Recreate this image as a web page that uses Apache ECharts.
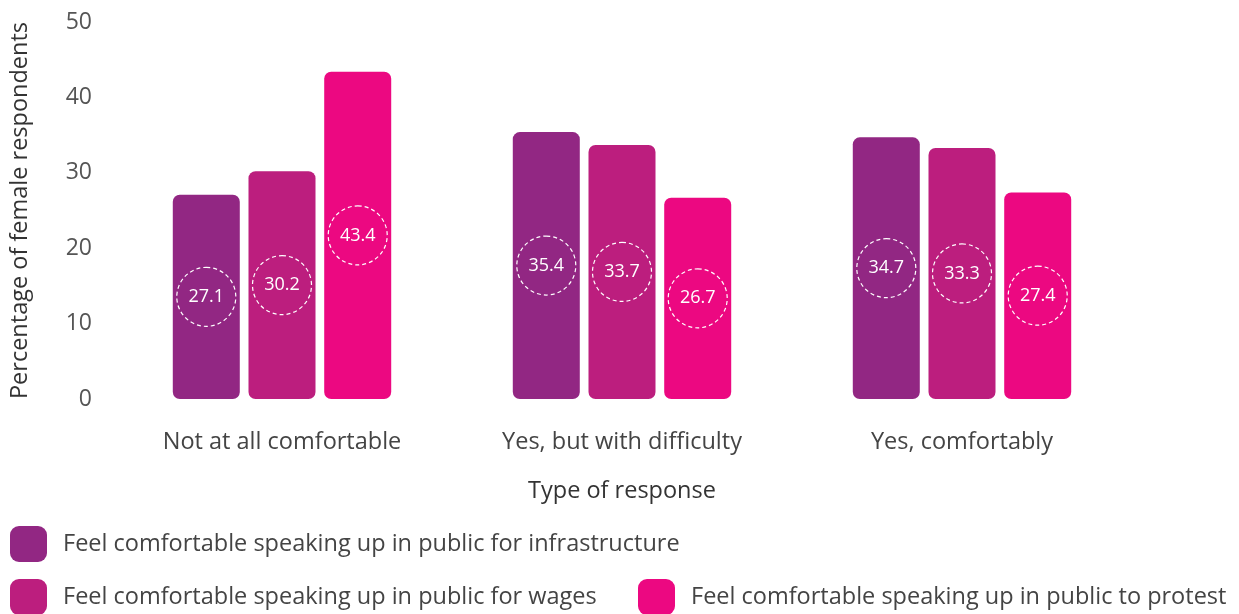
<!DOCTYPE html>
<html>
<head>
<meta charset="utf-8">
<script src="https://cdn.jsdelivr.net/npm/echarts@6/dist/echarts.min.js"></script>
<style>
  html, body { margin: 0; padding: 0; background: #fff; }
  #chart { width: 1239px; height: 614px; }
</style>
</head>
<body>
<div id="chart"></div>
<script>
// Survey responses by type, one bar per reason
const categories = ['Not at all comfortable', 'Yes, but with difficulty', 'Yes, comfortably'];
const seriesNames = [
  'Feel comfortable speaking up in public for infrastructure',
  'Feel comfortable speaking up in public for wages',
  'Feel comfortable speaking up in public to protest'
];
const infrastructure = [27.1, 35.4, 34.7];
const wages = [30.2, 33.7, 33.3];
const protest = [43.4, 26.7, 27.4];
const colors = ['#922783', '#bc1e7e', '#ec0881'];

const FONT = '"Open Sans", Lato, sans-serif';

function makeSeries(name, values, color) {
  return {
    name: name,
    type: 'bar',
    data: values,
    barWidth: 67,
    barGap: '13%',
    itemStyle: { color: color, borderRadius: 7 },
    label: {
      show: true,
      position: 'inside',
      formatter: p => p.value.toFixed(1),
      color: '#fff',
      fontFamily: FONT,
      fontSize: 18,
      width: 59,
      height: 59,
      lineHeight: 59,
      align: 'center',
      borderColor: '#fff',
      borderWidth: 1.2,
      borderType: [4, 3],
      borderRadius: 31
    }
  };
}

// one legend block per entry, placed in two rows
function legendItem(name, left, top) {
  return {
    data: [name],
    left: left,
    top: top,
    padding: 0,
    itemWidth: 37,
    itemHeight: 36,
    icon: 'roundRect',
    textStyle: { color: '#444', fontSize: 23.5, fontFamily: FONT, padding: [0, 0, 0, 11] }
  };
}

const chart = echarts.init(document.getElementById('chart'));
chart.setOption({
  animation: false,
  textStyle: { fontFamily: FONT },
  grid: { left: 112, right: 107, top: 22, bottom: 215, containLabel: false },
  xAxis: {
    type: 'category',
    data: categories,
    axisLine: { show: false },
    axisTick: { show: false },
    axisLabel: { color: '#444', fontSize: 23.5, margin: 31, fontFamily: FONT },
    name: 'Type of response',
    nameLocation: 'middle',
    nameGap: 80,
    nameTextStyle: { color: '#333', fontSize: 23.5, fontFamily: FONT }
  },
  yAxis: {
    type: 'value',
    min: 0,
    max: 50,
    interval: 10,
    axisLine: { show: false },
    axisTick: { show: false },
    splitLine: { show: false },
    axisLabel: { color: '#555', fontSize: 23, margin: 20, fontFamily: FONT },
    name: 'Percentage of female respondents',
    nameLocation: 'middle',
    nameGap: 80,
    nameTextStyle: { color: '#333', fontSize: 23.5, fontFamily: FONT }
  },
  legend: [
    legendItem(seriesNames[0], 10, 526),
    legendItem(seriesNames[1], 10, 579),
    legendItem(seriesNames[2], 638, 579)
  ],
  series: [
    makeSeries(seriesNames[0], infrastructure, colors[0]),
    makeSeries(seriesNames[1], wages, colors[1]),
    makeSeries(seriesNames[2], protest, colors[2])
  ]
});
</script>
</body>
</html>
